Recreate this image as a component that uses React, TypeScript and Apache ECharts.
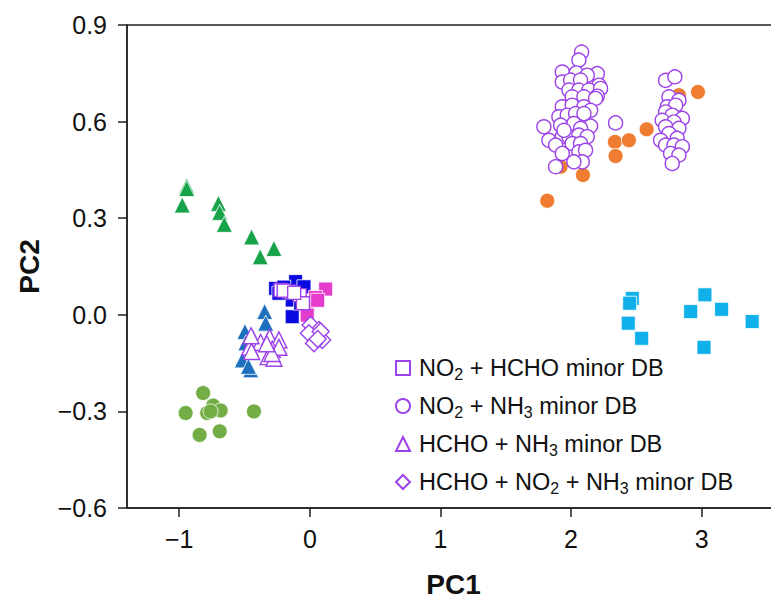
import React, { useEffect, useRef } from "react";
import * as echarts from "echarts";

// ---- data ----
const xTickValues = [-1, 0, 1, 2, 3];

const greenTriangles = [
  [-0.943, 0.4], [-0.943, 0.392], [-0.977, 0.341], [-0.7, 0.346], [-0.69, 0.318],
  [-0.655, 0.281], [-0.446, 0.242], [-0.275, 0.206], [-0.38, 0.18],
];
const oliveCircles = [
  [-0.817, -0.243], [-0.74, -0.282], [-0.683, -0.297], [-0.786, -0.305], [-0.76, -0.3],
  [-0.951, -0.305], [-0.428, -0.3], [-0.844, -0.373], [-0.69, -0.362],
];
const steelTriangles = [
  [-0.346, 0.01], [-0.338, -0.026], [-0.497, -0.052], [-0.49, -0.087],
  [-0.517, -0.14], [-0.453, -0.171], [-0.47, -0.16],
];
const blueSquares = [
  [-0.262, 0.082], [-0.109, 0.103], [-0.045, 0.087], [-0.135, 0.046],
  [-0.135, -0.006], [-0.07, 0.036], [-0.237, 0.067], [-0.2, 0.086],
];
const magentaSquares = [
  [0.121, 0.08], [0.044, 0.054], [-0.02, 0.025], [-0.02, -0.001], [0.06, 0.045],
];
const orangeCircles = [
  [1.818, 0.354], [1.92, 0.46], [2.091, 0.434], [2.336, 0.537], [2.341, 0.493],
  [2.443, 0.542], [2.579, 0.576], [2.826, 0.682], [2.972, 0.692],
];
const cyanSquares = [
  [2.469, 0.051], [2.449, 0.036], [2.438, -0.026], [2.541, -0.073], [3.025, 0.062],
  [2.916, 0.01], [3.153, 0.017], [3.387, -0.021], [3.018, -0.101],
];

const hollowSquares = [
  [-0.224, 0.077], [-0.16, 0.072], [-0.078, 0.061], [-0.053, 0.036], [-0.2, 0.075], [-0.12, 0.068],
];
const hollowCircles = [
  [2.081, 0.816], [2.06, 0.791], [1.933, 0.754], [2.04, 0.751], [2.201, 0.749], [2.124, 0.744],
  [1.933, 0.723], [1.997, 0.729], [2.073, 0.729], [2.214, 0.713], [1.984, 0.698], [2.06, 0.698],
  [2.137, 0.698], [2.226, 0.703], [2.201, 0.679], [2.009, 0.677], [2.099, 0.677], [2.188, 0.672],
  [1.933, 0.646], [2.009, 0.651], [2.099, 0.646], [2.15, 0.635], [1.907, 0.615], [1.971, 0.62],
  [2.035, 0.625], [2.099, 0.625], [1.792, 0.584], [1.92, 0.589], [2.022, 0.594], [2.15, 0.586],
  [2.073, 0.579], [1.831, 0.542], [1.933, 0.553], [1.984, 0.553], [2.06, 0.558], [2.124, 0.553],
  [1.882, 0.527], [2.009, 0.532], [2.073, 0.532], [1.933, 0.501], [2.06, 0.506], [2.111, 0.511],
  [1.882, 0.46], [2.086, 0.475], [2.022, 0.475], [2.341, 0.596], [1.946, 0.573],
  [2.724, 0.728], [2.795, 0.739], [2.75, 0.677], [2.826, 0.666], [2.737, 0.646], [2.801, 0.651],
  [2.724, 0.63], [2.775, 0.62], [2.852, 0.61], [2.698, 0.604], [2.788, 0.599], [2.724, 0.584],
  [2.826, 0.579], [2.75, 0.563], [2.686, 0.542], [2.813, 0.548], [2.724, 0.527], [2.788, 0.527],
  [2.852, 0.522], [2.762, 0.501], [2.826, 0.496], [2.775, 0.47],
];
const hollowTriangles = [
  [-0.434, -0.078], [-0.377, -0.086], [-0.308, -0.07], [-0.237, -0.078], [-0.461, -0.101],
  [-0.288, -0.107], [-0.446, -0.114], [-0.319, -0.13], [-0.275, -0.135], [-0.237, -0.101],
  [-0.45, -0.065], [-0.29, -0.12], [-0.33, -0.09],
];
const hollowDiamonds = [
  [0.006, -0.032], [0.07, -0.047], [0.044, -0.068], [-0.007, -0.057], [0.095, -0.078],
  [0.032, -0.088], [0.083, -0.052], [0.06, -0.075],
];

const legendNames = [
  "NO2 + HCHO minor DB",
  "NO2 + NH3 minor DB",
  "HCHO + NH3 minor DB",
  "HCHO + NO2 + NH3 minor DB",
];

const PURPLE = "#9b42e8";
const minus = (s: string) => s.replace("-", "\u2212");

function richName(name: string) {
  return name
    .split(/(\d)/)
    .filter((p) => p.length > 0)
    .map((p) => (/^\d$/.test(p) ? `{s|${p}}` : `{n|${p}}`))
    .join("");
}

export default function App() {
  const ref = useRef<HTMLDivElement>(null);
  useEffect(() => {
    if (!ref.current) return;
    const chart = echarts.init(ref.current, null, { renderer: "svg" });
    const filled = (name: string, data: number[][], symbol: string, size: number, color: string) => ({
      name,
      type: "scatter",
      data,
      symbol,
      symbolSize: size,
      itemStyle: { color, borderColor: "#ffffff", borderWidth: 0.8, opacity: 1 },
      z: 2,
    });
    const hollow = (name: string, data: number[][], symbol: string, size: number) => ({
      name,
      type: "scatter",
      data,
      symbol,
      symbolSize: size,
      itemStyle: { color: "#ffffff", borderColor: PURPLE, borderWidth: 1.4, opacity: 1 },
      z: 3,
    });
    chart.setOption({
      animation: false,
      backgroundColor: "#ffffff",
      textStyle: { fontFamily: "Liberation Sans, Arial, sans-serif" },
      grid: {
        left: 127,
        top: 25,
        width: 653,
        height: 483,
        outerBoundsMode: "none",
        containLabel: false,
        show: true,
        borderColor: "#222",
        borderWidth: 1.5,
        backgroundColor: "transparent",
      },
      xAxis: {
        type: "value",
        min: -1.4,
        max: 3.6,
        name: "PC1",
        nameLocation: "middle",
        nameGap: 62,
        nameTextStyle: { fontSize: 28, fontWeight: "bold", color: "#111" },
        axisLine: { show: true, onZero: false, lineStyle: { color: "#222", width: 1.5 } },
        axisTick: { show: true, length: 9, lineStyle: { color: "#222", width: 1.5 }, customValues: xTickValues },
        axisLabel: {
          fontSize: 25,
          color: "#111",
          margin: 18,
          customValues: xTickValues,
          formatter: (v: number) => minus(String(v)),
        },
        splitLine: { show: false },
      },
      yAxis: {
        type: "value",
        min: -0.6,
        max: 0.9,
        interval: 0.3,
        name: "PC2",
        nameLocation: "middle",
        nameGap: 84,
        nameTextStyle: { fontSize: 28, fontWeight: "bold", color: "#111" },
        axisLine: { show: true, onZero: false, lineStyle: { color: "#222", width: 1.5 } },
        axisTick: { show: true, length: 9, lineStyle: { color: "#222", width: 1.5 } },
        axisLabel: {
          fontSize: 25,
          color: "#111",
          margin: 20,
          formatter: (v: number) => minus(v.toFixed(1)),
        },
        splitLine: { show: false },
      },
      legend: {
        data: legendNames,
        orient: "vertical",
        left: 390,
        top: 351,
        itemWidth: 14,
        itemHeight: 14,
        itemGap: 12,
        selectedMode: false,
        formatter: (name: string) => richName(name),
        textStyle: {
          padding: [0, 0, 0, 4],
          rich: {
            n: { fontSize: 23.5, color: "#111", lineHeight: 28, verticalAlign: "middle" },
            s: { fontSize: 16, color: "#111", lineHeight: 28, verticalAlign: "bottom" },
          },
        },
      },
      series: [
        filled("greenTri", greenTriangles, "triangle", 16, "#17a34a"),
        filled("oliveCirc", oliveCircles, "circle", 15, "#72ad45"),
        filled("steelTri", steelTriangles, "triangle", 16, "#1d70bb"),
        filled("blueSq", blueSquares, "rect", 14, "#0a0ae0"),
        filled("magentaSq", magentaSquares, "rect", 14, "#e63ccc"),
        filled("orangeCirc", orangeCircles, "circle", 15, "#ee7d31"),
        filled("cyanSq", cyanSquares, "rect", 14, "#10b0ea"),
        hollow(legendNames[0], hollowSquares, "rect", 13),
        hollow(legendNames[1], hollowCircles, "circle", 14),
        hollow(legendNames[2], hollowTriangles, "triangle", 16),
        hollow(legendNames[3], hollowDiamonds, "diamond", 17),
      ],
    });
    return () => chart.dispose();
  }, []);
  return (
    <div
      ref={ref}
      style={{ position: "absolute", left: 0, top: 0, width: 771, height: 599 }}
    />
  );
}
